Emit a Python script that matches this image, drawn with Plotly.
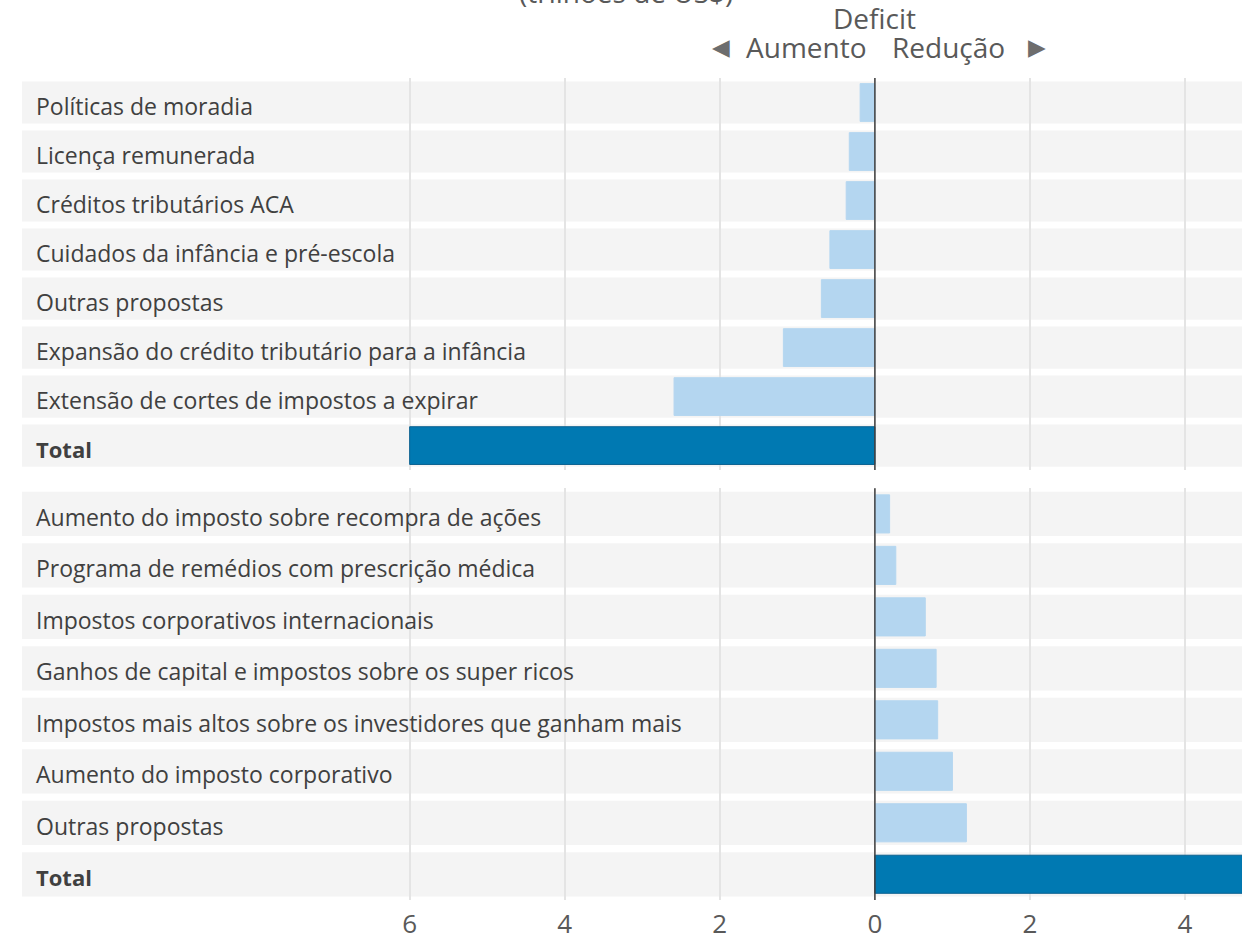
import plotly.graph_objects as go

# ---- data ----
top_labels = ["Políticas de moradia", "Licença remunerada", "Créditos tributários ACA",
              "Cuidados da infância e pré-escola", "Outras propostas",
              "Expansão do crédito tributário para a infância",
              "Extensão de cortes de impostos a expirar", "Total"]
top_values = [-0.19, -0.33, -0.37, -0.58, -0.69, -1.18, -2.59, -6.0]

bottom_labels = ["Aumento do imposto sobre recompra de ações",
                 "Programa de remédios com prescrição médica",
                 "Impostos corporativos internacionais",
                 "Ganhos de capital e impostos sobre os super ricos",
                 "Impostos mais altos sobre os investidores que ganham mais",
                 "Aumento do imposto corporativo", "Outras propostas", "Total"]
bottom_values = [0.19, 0.27, 0.65, 0.79, 0.81, 1.0, 1.18, 4.74]

tick_vals = [-6, -4, -2, 0, 2, 4]
tick_text = ["6", "4", "2", "0", "2", "4"]

LIGHT = "#b4d6f0"
DARK = "#0079b2"
FONT = "Open Sans"
TXT = "#404040"

def colors(labels):
    return [DARK if l == "Total" else LIGHT for l in labels]

def lines(labels):
    return [("#0a6190" if l == "Total" else LIGHT) for l in labels]

fig = go.Figure()
fig.add_trace(go.Bar(y=top_labels, x=top_values, orientation="h", width=0.77,
                     marker=dict(color=colors(top_labels),
                                 line=dict(color=lines(top_labels), width=1)),
                     xaxis="x", yaxis="y", showlegend=False, hoverinfo="x+y"))
fig.add_trace(go.Bar(y=bottom_labels, x=bottom_values, orientation="h", width=0.74,
                     marker=dict(color=colors(bottom_labels),
                                 line=dict(color=lines(bottom_labels), width=1)),
                     xaxis="x2", yaxis="y2", showlegend=False, hoverinfo="x+y"))

xrange = [-11.0, 4.735]
shapes = []
annotations = []
for labels, xr, yr in [(top_labels, "x", "y"), (bottom_labels, "x2", "y2")]:
    for i, lab in enumerate(labels):
        shapes.append(dict(type="rect", xref=f"{xr} domain", x0=0, x1=1, yref=yr,
                           y0=i - 0.43, y1=i + 0.43, fillcolor="#f4f4f4",
                           line=dict(width=0), layer="below"))
        is_total = lab == "Total"
        annotations.append(dict(text=f"<b>{lab}</b>" if is_total else lab,
                                xref=f"{xr} domain", x=0, xshift=12, xanchor="left",
                                yref=yr, y=lab, yshift=-3, showarrow=False,
                                font=dict(family=FONT, size=22 if is_total else 23,
                                          color=TXT)))
    shapes.append(dict(type="line", xref=xr, x0=0, x1=0, yref=f"{yr} domain",
                       y0=0, y1=1, line=dict(color="#404040", width=1.5), layer="above"))

HDR = "#595959"
annotations += [
    dict(text="(trilhões de US$)", xref="paper", x=0.495, xanchor="center",
         yref="paper", y=1, yanchor="bottom", yshift=65, showarrow=False,
         font=dict(family=FONT, size=28, color=HDR)),
    dict(text="Deficit", xref="x", x=0, xanchor="center", yref="paper", y=1,
         yanchor="middle", yshift=60, showarrow=False,
         font=dict(family=FONT, size=28, color=HDR)),
    dict(text="Aumento", xref="x", x=0, xanchor="right", xshift=-6, yref="paper", y=1,
         yanchor="middle", yshift=31, showarrow=False,
         font=dict(family=FONT, size=28, color=HDR)),
    dict(text="Redução", xref="x", x=0, xanchor="left", xshift=15, yref="paper", y=1,
         yanchor="middle", yshift=31, showarrow=False,
         font=dict(family=FONT, size=28, color=HDR)),
    dict(text="◀", xref="x", x=0, xanchor="center", xshift=-154, yref="paper", y=1,
         yanchor="middle", yshift=31, showarrow=False,
         font=dict(family="DejaVu Sans", size=23, color="#6d6d6d")),
    dict(text="▶", xref="x", x=0, xanchor="center", xshift=162, yref="paper", y=1,
         yanchor="middle", yshift=31, showarrow=False,
         font=dict(family="DejaVu Sans", size=23, color="#6d6d6d")),
]

axis_common = dict(range=xrange, tickvals=tick_vals, ticktext=tick_text,
                   showgrid=True, gridcolor="#e4e4e4", gridwidth=1.5,
                   zeroline=False, showline=False, ticks="", fixedrange=True,
                   automargin=False)

fig.update_layout(
    width=1251, height=942,
    margin=dict(l=22, r=9, t=78, b=42, autoexpand=False),
    paper_bgcolor="white", plot_bgcolor="white",
    xaxis=dict(**axis_common, anchor="y", showticklabels=False, domain=[0, 1]),
    yaxis=dict(domain=[0.523, 1], categoryorder="array", categoryarray=top_labels,
               range=[7.5, -0.5], showticklabels=False, showgrid=False,
               zeroline=False, anchor="x", automargin=False, fixedrange=True),
    xaxis2=dict(**axis_common, anchor="y2", showticklabels=True, domain=[0, 1],
                tickfont=dict(family=FONT, size=26, color="#595959"),
                ticklabelstandoff=6),
    yaxis2=dict(domain=[0, 0.501], categoryorder="array", categoryarray=bottom_labels,
                range=[7.5, -0.5], showticklabels=False, showgrid=False,
                zeroline=False, anchor="x2", automargin=False, fixedrange=True),
    shapes=shapes,
    annotations=annotations,
)

fig.write_html("out.html", config={"displayModeBar": False},
               post_script="document.body.style.margin='0';document.body.style.overflow='hidden';")
